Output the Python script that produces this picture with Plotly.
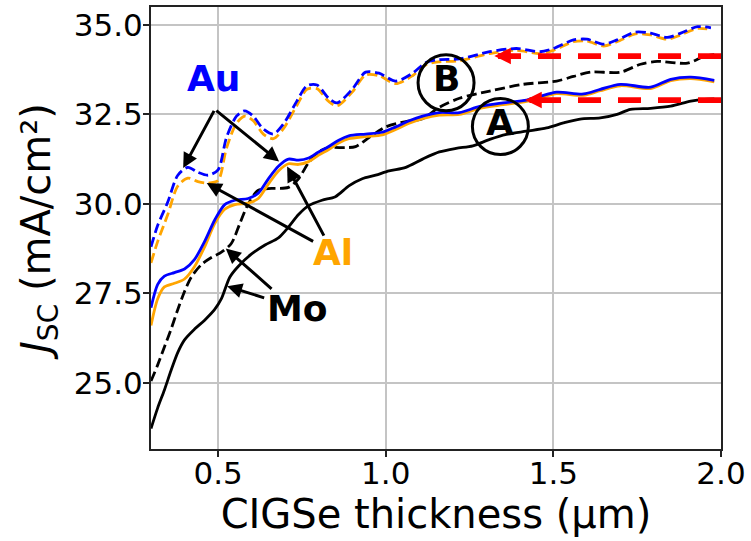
import plotly.graph_objects as go

# ---------------- data ----------------
mo_solid_x = [0.30, 0.32, 0.34, 0.36, 0.38, 0.40, 0.43, 0.46, 0.49, 0.51, 0.535, 0.56, 0.60, 0.64, 0.68,
              0.71, 0.74, 0.77, 0.81, 0.85, 0.89, 0.93, 0.97, 1.01, 1.06, 1.11, 1.16, 1.21, 1.26, 1.31,
              1.36, 1.42, 1.48, 1.53, 1.58, 1.64, 1.69, 1.73, 1.79, 1.85, 1.91, 1.95, 1.98]
mo_solid_y = [23.72, 24.30, 24.80, 25.35, 25.85, 26.20, 26.50, 26.75, 27.05, 27.35, 27.95, 28.25, 28.60, 28.85, 29.05,
              29.35, 29.70, 29.95, 30.10, 30.20, 30.50, 30.70, 30.80, 30.92, 31.02, 31.25, 31.45, 31.55, 31.62, 31.80,
              31.94, 32.03, 32.12, 32.26, 32.37, 32.40, 32.50, 32.64, 32.67, 32.73, 32.87, 32.92, 32.93]

mo_dash_x = [0.30, 0.32, 0.34, 0.36, 0.38, 0.40, 0.42, 0.45, 0.48, 0.51, 0.54, 0.565, 0.59, 0.62, 0.66,
             0.71, 0.74, 0.77, 0.80, 0.83, 0.88, 0.91, 0.95, 1.00, 1.06, 1.11, 1.16, 1.22, 1.31, 1.41,
             1.51, 1.56, 1.61, 1.70, 1.76, 1.81, 1.90, 1.95, 1.98]
mo_dash_y = [25.05, 25.50, 26.00, 26.50, 27.05, 27.55, 27.95, 28.30, 28.50, 28.65, 28.90, 29.45, 30.00, 30.38, 30.43,
             30.46, 30.70, 31.15, 31.45, 31.57, 31.57, 31.60, 31.85, 32.15, 32.30, 32.38, 32.70, 32.95, 33.15, 33.34,
             33.43, 33.56, 33.68, 33.68, 33.90, 33.98, 33.93, 34.12, 34.17]

solid_x = [0.30, 0.32, 0.34, 0.37, 0.40, 0.43, 0.46, 0.49, 0.52, 0.55, 0.59, 0.62, 0.65, 0.68, 0.71,
           0.74, 0.77, 0.80, 0.83, 0.86, 0.89, 0.94, 0.99, 1.03, 1.07, 1.11, 1.16, 1.22, 1.28, 1.35,
           1.42, 1.46, 1.51, 1.59, 1.64, 1.70, 1.79, 1.85, 1.91, 1.98]
au_solid_y = [27.10, 27.75, 27.98, 28.08, 28.18, 28.45, 28.95, 29.55, 29.98, 30.10, 30.15, 30.30, 30.70, 31.05, 31.25,
              31.22, 31.28, 31.45, 31.60, 31.78, 31.90, 31.95, 32.00, 32.15, 32.32, 32.45, 32.55, 32.55, 32.72, 32.82,
              32.90, 33.00, 33.12, 33.07, 33.20, 33.34, 33.26, 33.48, 33.54, 33.45]
al_solid_y = [26.60, 27.35, 27.68, 27.78, 27.90, 28.25, 28.80, 29.45, 29.85, 29.98, 30.02, 30.15, 30.55, 30.92, 31.12,
              31.10, 31.18, 31.36, 31.52, 31.70, 31.82, 31.88, 31.93, 32.08, 32.25, 32.38, 32.48, 32.50, 32.67, 32.77,
              32.86, 32.96, 33.08, 33.03, 33.16, 33.30, 33.22, 33.44, 33.50, 33.41]

dash_x = [0.30, 0.32, 0.35, 0.38, 0.41, 0.44, 0.47, 0.50, 0.525, 0.555, 0.58, 0.605, 0.635, 0.665, 0.695,
          0.735, 0.765, 0.795, 0.83, 0.855, 0.90, 0.94, 0.98, 1.03, 1.08, 1.12, 1.16, 1.22, 1.31, 1.39,
          1.46, 1.50, 1.56, 1.60, 1.65, 1.69, 1.745, 1.79, 1.84, 1.88, 1.93, 1.97]
au_dash_y = [28.80, 29.40, 30.05, 30.80, 31.02, 30.88, 30.80, 30.95, 31.85, 32.45, 32.60, 32.45, 32.09, 31.95, 32.23,
             32.87, 33.30, 33.32, 32.95, 32.82, 33.20, 33.68, 33.65, 33.43, 33.65, 33.95, 34.03, 34.05, 34.25, 34.34,
             34.25, 34.34, 34.58, 34.60, 34.46, 34.58, 34.80, 34.77, 34.65, 34.77, 34.95, 34.92]
al_dash_y = [28.35, 28.95, 29.70, 30.50, 30.72, 30.62, 30.58, 30.65, 31.55, 32.25, 32.45, 32.32, 31.95, 31.82, 32.10,
             32.75, 33.20, 33.22, 32.86, 32.74, 33.12, 33.60, 33.58, 33.36, 33.58, 33.89, 33.97, 34.00, 34.20, 34.29,
             34.20, 34.29, 34.53, 34.55, 34.41, 34.53, 34.75, 34.72, 34.60, 34.72, 34.90, 34.87]

x_ticks = [0.5, 1.0, 1.5, 2.0]
y_ticks = [25.0, 27.5, 30.0, 32.5, 35.0]

# red dashed reference arrows: (level, tip x, right end x)
red_levels = [34.13, 32.90]
red_tips = [1.324, 1.416]
red_end = 2.0

# label annotations (text, x, y, colour)
labels = [("Au", 0.489, 33.49, "#0000ff"),
          ("Al", 0.843, 28.65, "#ffa500"),
          ("Mo", 0.738, 27.08, "#000000")]
# black pointer arrows: (tail x, tail y, tip x, tip y)
pointers = [(0.4905, 32.64, 0.396, 31.00),
            (0.4905, 32.64, 0.682, 31.18),
            (0.788, 28.93, 0.466, 30.58),
            (0.818, 29.07, 0.706, 31.04),
            (0.664, 27.59, 0.523, 28.75),
            (0.642, 27.36, 0.527, 27.70)]
# circled letters: (letter, x, y)
circles = [("A", 1.342, 32.16), ("B", 1.18, 33.38)]

FONT = "DejaVu Sans"
fig = go.Figure()

def add_line(x, y, color, dash=None):
    fig.add_trace(go.Scatter(
        x=x, y=y, mode="lines", line_shape="spline", showlegend=False, hoverinfo="skip",
        line=dict(color=color, width=2.8, dash=dash if dash else "solid", smoothing=0.8)))

add_line(mo_solid_x, mo_solid_y, "#000000")
add_line(mo_dash_x, mo_dash_y, "#000000", "10px,4.5px")
add_line(solid_x, al_solid_y, "#ffa500")
add_line(dash_x, al_dash_y, "#ffa500", "10px,4.5px")
add_line(solid_x, au_solid_y, "#0000ff")
add_line(dash_x, au_dash_y, "#0000ff", "10px,4.5px")

annotations = []
for lvl, tip in zip(red_levels, red_tips):
    fig.add_trace(go.Scatter(
        x=[red_end, tip], y=[lvl, lvl], mode="lines", showlegend=False, hoverinfo="skip",
        line=dict(color="#ff0000", width=5.7, dash="23px,17px")))
    annotations.append(dict(x=tip, y=lvl, xref="x", yref="y", ax=17, ay=0, text="",
                            showarrow=True, arrowhead=2, arrowsize=0.58, arrowwidth=5.7,
                            arrowcolor="#ff0000", standoff=0))

for (tx, ty, hx, hy) in pointers:
    annotations.append(dict(x=hx, y=hy, ax=tx, ay=ty, xref="x", yref="y", axref="x", ayref="y",
                            text="", showarrow=True, arrowhead=2, arrowsize=1.0, arrowwidth=3,
                            arrowcolor="#000000", standoff=0))

for (txt, x, y, c) in labels:
    annotations.append(dict(x=x, y=y, xref="x", yref="y", text="<b>%s</b>" % txt, showarrow=False,
                            font=dict(family=FONT, size=36, color=c)))

shapes = []
for (txt, x, y) in circles:
    shapes.append(dict(type="circle", xref="x", yref="y", xsizemode="pixel", ysizemode="pixel",
                       xanchor=x, yanchor=y, x0=-28, x1=28, y0=-28, y1=28,
                       line=dict(color="#000000", width=3)))
    annotations.append(dict(x=x, y=y, xref="x", yref="y", text="<b>%s</b>" % txt, showarrow=False,
                            yshift=4, font=dict(family=FONT, size=36, color="#000000")))

axis_common = dict(showgrid=True, gridcolor="#c4c4c4", gridwidth=1.5, zeroline=False,
                   showline=True, mirror=True, linecolor="#222222", linewidth=2,
                   ticks="outside", ticklen=6, tickwidth=1.5, tickcolor="#222222",
                   tickfont=dict(family=FONT, size=31, color="#000000"))

fig.update_layout(
    width=751, height=541,
    margin=dict(l=151, r=29, t=5, b=92),
    paper_bgcolor="white", plot_bgcolor="white",
    showlegend=False,
    annotations=annotations, shapes=shapes,
    xaxis=dict(range=[0.3, 2.0], tickvals=x_ticks, ticktext=["%.1f" % v for v in x_ticks],
               ticklabelstandoff=-10,
               title=dict(text="CIGSe thickness (µm)", font=dict(family=FONT, size=40, color="#000000"),
                          standoff=6),
               **axis_common),
    yaxis=dict(range=[23.15, 35.5], tickvals=y_ticks, ticktext=["%.1f" % v for v in y_ticks],
               ticklabelstandoff=-6,
               title=dict(text="<i>J</i><sub>SC</sub> (mA/cm²)",
                          font=dict(family=FONT, size=40, color="#000000"), standoff=11),
               **axis_common),
)

fig.write_html("out.html")
